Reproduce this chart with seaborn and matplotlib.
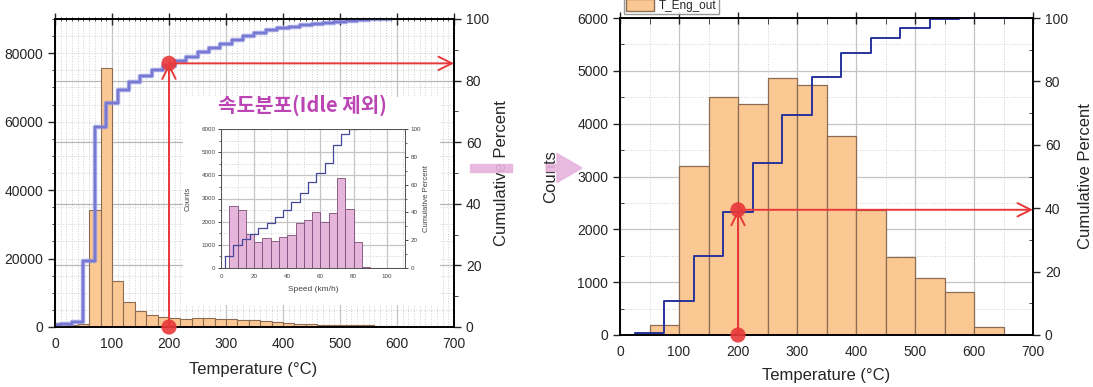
import numpy as np
import matplotlib
matplotlib.use('Agg')
import matplotlib.pyplot as plt
import seaborn as sns
from matplotlib.ticker import MultipleLocator
from matplotlib.patches import FancyArrow, Rectangle, Patch

# left panel: exhaust temperature histogram (20 degC bins)
left_edges = list(range(0, 620, 20))
left_counts = [1200, 600, 800, 34300, 75600, 13300, 7200, 4600, 3550, 2900,
               2550, 2450, 2600, 2600, 2350, 2300, 2150, 2000, 1850, 1550,
               1250, 900, 850, 650, 580, 560, 500, 470, 380, 280]

# right panel: T_Eng_out histogram (50 degC bins)
right_edges = list(range(50, 700, 50))
right_counts = [190, 3200, 4500, 4370, 4860, 4730, 3770, 2370, 1470, 1080, 810, 145]

# inset: speed distribution without idle (5 km/h bins)
speed_edges = list(range(5, 95, 5))
speed_counts = [2675, 2515, 1475, 1130, 1290, 1160, 1345, 1430, 1950, 2080,
                2430, 1980, 2385, 3875, 2545, 1130, 45]

# picked points (temperature, cumulative percent)
pick_temp = [200, 200]
left_pick_pct = [0, 85.6]
right_pick_pct = [0, 39.5]

RED = '#e8383a'
ORANGE = '#fbc893'
ORANGE_EDGE = '#8c6c52'


def draw_hist(ax, edges, counts, color, edge, lw):
    e = np.array(edges, dtype=float)
    centers = (e[:-1] + e[1:]) / 2
    sns.histplot(x=centers, weights=counts, bins=edges, ax=ax, color=color,
                 edgecolor=edge, linewidth=lw, alpha=1)


def cum_steps(edges, counts, tail):
    e = np.array(edges, dtype=float)
    w = e[1] - e[0]
    pct = np.cumsum(counts) / np.sum(counts) * 100
    x = e[:-1] - w / 2
    x = np.concatenate([[x[0]], x, [x[-1] + tail * w]])
    y = np.concatenate([[0], pct, [pct[-1]]])
    return x, y


def grid_style(ax, axis):
    ax.grid(axis=axis, which='major', color='#c4c4c4', lw=0.9, ls='-')
    ax.grid(axis=axis, which='minor', color='#d0d0d0', lw=0.7, ls=':')


sns.set_style('white')
plt.rcParams['font.family'] = ['Liberation Sans', 'Noto Sans CJK KR', 'DejaVu Sans']
plt.rcParams['axes.edgecolor'] = 'black'
plt.rcParams['axes.linewidth'] = 1.2

fig = plt.figure(figsize=(10.93, 3.87), dpi=100)

# ---------------- left panel ----------------
axL = fig.add_axes([55 / 1093, 60 / 387, 399 / 1093, 308 / 387])
axL.set_axisbelow(True)
draw_hist(axL, left_edges, left_counts, ORANGE, ORANGE_EDGE, 0.8)
left_ymax = 90000
axL.set_xlim(0, 700)
axL.set_ylim(0, left_ymax)
axL.xaxis.set_major_locator(MultipleLocator(100))
axL.xaxis.set_minor_locator(MultipleLocator(10))
axL.yaxis.set_major_locator(MultipleLocator(20000))
axL.yaxis.set_minor_locator(MultipleLocator(5000))
grid_style(axL, 'x')
axL.grid(axis='y', which='both', color='#d0d0d0', lw=0.7, ls=':')
axL.set_ylabel('')
axL.set_xlabel('Temperature (°C)', fontsize=12)
axL.xaxis.set_label_coords(0.496, -0.115)
axL.tick_params(axis='both', which='major', labelsize=10, direction='out', length=5, width=1)
axL.tick_params(axis='x', which='major', direction='inout', length=8, top=True)
axL.tick_params(axis='x', which='minor', direction='inout', length=3, top=True)
axL.tick_params(axis='y', which='minor', direction='out', length=2.5)

axL2 = axL.twinx()
axL2.set_ylim(0, 100)
axL2.yaxis.set_major_locator(MultipleLocator(20))
axL2.yaxis.set_minor_locator(MultipleLocator(10))
axL2.tick_params(axis='y', which='major', labelsize=10, direction='out', length=5, width=1)
axL2.tick_params(axis='y', which='minor', direction='out', length=3)
axL2.set_ylabel('Cumulative Percent', fontsize=12)
axL2.yaxis.set_label_coords(1.10, 0.5)
for p in axL2.get_yticks()[1:-1]:
    axL.axhline(p / 100 * left_ymax, color='#b8b8b8', lw=0.9, zorder=0.6)

# white box behind the inset
axL.add_patch(Rectangle((0.321, 0.071), 0.644, 0.676, transform=axL.transAxes,
                        facecolor='white', edgecolor='none', zorder=1.5))

lx, ly = cum_steps(left_edges, left_counts, 1)
sns.lineplot(x=lx, y=ly, ax=axL2, estimator=None, sort=False, drawstyle='steps-post',
             color='#3a3aa8', lw=1.6)
sns.lineplot(x=lx, y=ly, ax=axL2, estimator=None, sort=False, drawstyle='steps-post',
             color='#8c8ee0', lw=3.2, alpha=0.75)
axL2.annotate('', xy=(axL.get_xlim()[1], left_pick_pct[1]), xytext=(pick_temp[1], left_pick_pct[1]),
              arrowprops=dict(arrowstyle='->', color=RED, lw=1.4, mutation_scale=24,
                              shrinkA=0, shrinkB=0))
axL2.annotate('', xy=(pick_temp[1], left_pick_pct[1]), xytext=(pick_temp[0], left_pick_pct[0]),
              arrowprops=dict(arrowstyle='->', color=RED, lw=1.4, mutation_scale=24,
                              shrinkA=0, shrinkB=0))
sns.scatterplot(x=pick_temp, y=left_pick_pct, ax=axL2, s=120, color=RED, alpha=0.9,
                edgecolor='none', clip_on=False, zorder=5)
axL2.set_xlim(0, 700)

# ---------------- inset ----------------
axI = fig.add_axes([221 / 1093, 119 / 387, 184 / 1093, 139 / 387])
axI.set_axisbelow(True)
draw_hist(axI, speed_edges, speed_counts, '#e5b6da', '#7d4c7c', 0.6)
axI.set_xlim(0, 111)
axI.set_ylim(0, 6000)
axI.xaxis.set_major_locator(MultipleLocator(20))
axI.xaxis.set_minor_locator(MultipleLocator(10))
axI.yaxis.set_major_locator(MultipleLocator(1000))
axI.yaxis.set_minor_locator(MultipleLocator(500))
grid_style(axI, 'both')
for s in axI.spines.values():
    s.set_linewidth(0.7)
    s.set_color('#555555')
axI.tick_params(axis='both', which='major', labelsize=4.5, labelcolor='#444444',
                length=2.5, width=0.6, direction='out', pad=1.5)
axI.tick_params(axis='both', which='minor', length=1.5, width=0.5, direction='out')
axI.set_xlabel('Speed (km/h)', fontsize=6, color='#444444')
axI.set_ylabel('Counts', fontsize=5.5, color='#444444')
axI.xaxis.set_label_coords(0.5, -0.13)
axI.yaxis.set_label_coords(-0.16, 0.5)

axI2 = axI.twinx()
axI2.set_ylim(0, 100)
axI2.yaxis.set_major_locator(MultipleLocator(20))
axI2.yaxis.set_minor_locator(MultipleLocator(10))
for s in axI2.spines.values():
    s.set_linewidth(0.7)
    s.set_color('#555555')
axI2.tick_params(axis='y', which='major', labelsize=4.5, labelcolor='#444444',
                 length=2.5, width=0.6, direction='out', pad=1.5)
axI2.tick_params(axis='y', which='minor', length=1.5, width=0.5, direction='out')
axI2.set_ylabel('Cumulative Percent', fontsize=5.5, color='#444444')
axI2.yaxis.set_label_coords(1.1, 0.5)
ix, iy = cum_steps(speed_edges, speed_counts, 0)
sns.lineplot(x=ix, y=iy, ax=axI2, estimator=None, sort=False, drawstyle='steps-post',
             color='#45479a', lw=0.9)

fig.text(0.2763, 0.7287, '속도분포(Idle 제외)', fontsize=14.5, fontweight='bold',
         color='#bc45b4', ha='center', va='center',
         family=['Noto Sans CJK KR', 'DejaVu Sans'])

# ---------------- right panel ----------------
axR = fig.add_axes([620 / 1093, 52 / 387, 413 / 1093, 317 / 387])
axR.set_axisbelow(True)
draw_hist(axR, right_edges, right_counts, ORANGE, ORANGE_EDGE, 0.9)
axR.set_xlim(0, 700)
axR.set_ylim(0, 6000)
axR.xaxis.set_major_locator(MultipleLocator(100))
axR.xaxis.set_minor_locator(MultipleLocator(50))
axR.yaxis.set_major_locator(MultipleLocator(1000))
axR.yaxis.set_minor_locator(MultipleLocator(500))
grid_style(axR, 'both')
axR.set_xlabel('Temperature (°C)', fontsize=12)
axR.set_ylabel('Counts', fontsize=12)
axR.xaxis.set_label_coords(0.5, -0.105)
axR.yaxis.set_label_coords(-0.15, 0.5)
axR.tick_params(axis='both', which='major', labelsize=10, direction='out', length=5, width=1)
axR.tick_params(axis='x', which='major', direction='inout', length=8, top=True)
axR.tick_params(axis='x', which='minor', direction='in', length=4, top=True)
axR.tick_params(axis='y', which='minor', direction='in', length=3)
axR.legend(handles=[Patch(facecolor=ORANGE, edgecolor=ORANGE_EDGE)], labels=['T_Eng_out'],
           loc='lower left', bbox_to_anchor=(0, 1.0), borderaxespad=0.3, fontsize=8.5,
           frameon=True, fancybox=False, edgecolor='#808080', borderpad=0.2,
           handlelength=2.4, handleheight=1.1, handletextpad=0.4)

axR2 = axR.twinx()
axR2.set_ylim(0, 100)
axR2.yaxis.set_major_locator(MultipleLocator(20))
axR2.yaxis.set_minor_locator(MultipleLocator(10))
axR2.tick_params(axis='y', which='major', labelsize=10, direction='out', length=5, width=1)
axR2.tick_params(axis='y', which='minor', direction='in', length=3)
axR2.set_ylabel('Cumulative Percent', fontsize=12)
axR2.yaxis.set_label_coords(1.11, 0.5)
rx, ry = cum_steps(right_edges, right_counts, 2)
sns.lineplot(x=rx, y=ry, ax=axR2, estimator=None, sort=False, drawstyle='steps-post',
             color='#27339a', lw=1.4)
axR2.annotate('', xy=(axR.get_xlim()[1], right_pick_pct[1]), xytext=(pick_temp[1], right_pick_pct[1]),
              arrowprops=dict(arrowstyle='->', color=RED, lw=1.4, mutation_scale=24,
                              shrinkA=0, shrinkB=0))
axR2.annotate('', xy=(pick_temp[1], right_pick_pct[1]), xytext=(pick_temp[0], right_pick_pct[0]),
              arrowprops=dict(arrowstyle='->', color=RED, lw=1.4, mutation_scale=24,
                              shrinkA=0, shrinkB=0))
sns.scatterplot(x=pick_temp, y=right_pick_pct, ax=axR2, s=120, color=RED, alpha=0.9,
                edgecolor='none', clip_on=False, zorder=5)
axR2.set_xlim(0, 700)

# pink arrow between the panels
pink = '#e7b3dd'
fig.add_artist(FancyArrow(470 / 1093, 219 / 387, 42 / 1093, 0, width=7 / 387, head_width=7 / 387,
                          head_length=0, transform=fig.transFigure, color=pink, alpha=0.9,
                          zorder=10, length_includes_head=True))
fig.add_artist(FancyArrow(546 / 1093, 219 / 387, 36 / 1093, 0, width=7 / 387, head_width=29 / 387,
                          head_length=25 / 1093, transform=fig.transFigure, color=pink, alpha=0.9,
                          zorder=10, length_includes_head=True))

fig.savefig('out.png', dpi=100)
